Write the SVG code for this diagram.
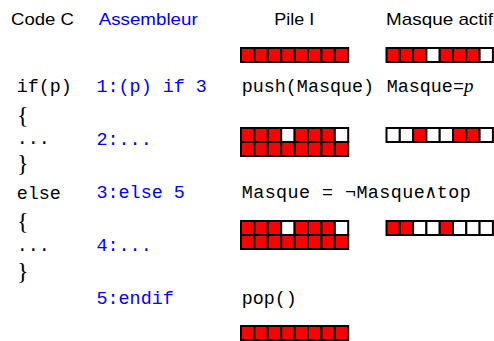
<svg xmlns="http://www.w3.org/2000/svg" width="494" height="341" viewBox="0 0 494 341">
<style>
.h{font-family:"Liberation Sans",Arial,sans-serif;font-size:17px;fill:#000}
.hb{fill:#0000ff}
.m{font-family:"Liberation Mono","DejaVu Sans Mono",monospace;font-size:18.4px;fill:#000}
.b{fill:#0000ff}
.br{font-family:"Liberation Serif","DejaVu Serif",serif;font-size:24px;fill:#000}
.mi{font-family:"Liberation Serif",serif;font-style:italic;font-size:19px}
.r{fill:#ff0000;stroke:#000;stroke-width:2}
.w{fill:#ffffff;stroke:#000;stroke-width:2}
</style>
<g id="headers">
<text class="h" x="11" y="25" textLength="63" lengthAdjust="spacingAndGlyphs">Code C</text>
<text class="h hb" x="98.7" y="25" textLength="99" lengthAdjust="spacingAndGlyphs">Assembleur</text>
<text class="h" x="274.3" y="25" textLength="40" lengthAdjust="spacingAndGlyphs">Pile I</text>
<text class="h" x="386" y="25" textLength="107" lengthAdjust="spacingAndGlyphs">Masque actif</text>
</g>
<g id="code-c">
<text class="m" x="16.7" y="92">if(p)</text>
<text class="br" x="17" y="123">{</text>
<text class="m" x="16.7" y="144">...</text>
<text class="br" x="17" y="171">}</text>
<text class="m" x="16.7" y="199">else</text>
<text class="br" x="17" y="229">{</text>
<text class="m" x="16.7" y="251">...</text>
<text class="br" x="17" y="279">}</text>
</g>
<g id="assembleur">
<text class="m b" x="96.5" y="92">1:(p) if 3</text>
<text class="m b" x="96.5" y="145">2:...</text>
<text class="m b" x="96.5" y="198">3:else 5</text>
<text class="m b" x="96.5" y="251">4:...</text>
<text class="m b" x="96.5" y="304">5:endif</text>
</g>
<g id="operations">
<text class="m" x="241.7" y="92">push(Masque)</text>
<text class="m" x="386.7" y="92">Masque=<tspan class="mi">p</tspan></text>
<text class="m" x="241.7" y="198" textLength="229">Masque = ¬Masque∧top</text>
<text class="m" x="241.7" y="304">pop()</text>
</g>
<g id="pile-1">
<rect class="r" x="241" y="48" width="13.4" height="14"/><rect class="r" x="254.4" y="48" width="13.4" height="14"/><rect class="r" x="267.8" y="48" width="13.4" height="14"/><rect class="r" x="281.2" y="48" width="13.4" height="14"/><rect class="r" x="294.6" y="48" width="13.4" height="14"/><rect class="r" x="308" y="48" width="13.4" height="14"/><rect class="r" x="321.4" y="48" width="13.4" height="14"/><rect class="r" x="334.8" y="48" width="13.4" height="14"/>
</g>
<g id="masque-1">
<rect class="r" x="386.5" y="48" width="13.3" height="14"/><rect class="r" x="399.8" y="48" width="13.3" height="14"/><rect class="r" x="413.1" y="48" width="13.3" height="14"/><rect class="w" x="426.4" y="48" width="13.3" height="14"/><rect class="r" x="439.7" y="48" width="13.3" height="14"/><rect class="r" x="453" y="48" width="13.3" height="14"/><rect class="r" x="466.3" y="48" width="13.3" height="14"/><rect class="w" x="479.6" y="48" width="13.3" height="14"/>
</g>
<g id="pile-2">
<rect class="r" x="241" y="128" width="13.4" height="14"/><rect class="r" x="254.4" y="128" width="13.4" height="14"/><rect class="r" x="267.8" y="128" width="13.4" height="14"/><rect class="w" x="281.2" y="128" width="13.4" height="14"/><rect class="r" x="294.6" y="128" width="13.4" height="14"/><rect class="r" x="308" y="128" width="13.4" height="14"/><rect class="r" x="321.4" y="128" width="13.4" height="14"/><rect class="w" x="334.8" y="128" width="13.4" height="14"/>
<rect class="r" x="241" y="142" width="13.4" height="14"/><rect class="r" x="254.4" y="142" width="13.4" height="14"/><rect class="r" x="267.8" y="142" width="13.4" height="14"/><rect class="r" x="281.2" y="142" width="13.4" height="14"/><rect class="r" x="294.6" y="142" width="13.4" height="14"/><rect class="r" x="308" y="142" width="13.4" height="14"/><rect class="r" x="321.4" y="142" width="13.4" height="14"/><rect class="r" x="334.8" y="142" width="13.4" height="14"/>
</g>
<g id="masque-2">
<rect class="w" x="386.5" y="128" width="13.3" height="14"/><rect class="w" x="399.8" y="128" width="13.3" height="14"/><rect class="r" x="413.1" y="128" width="13.3" height="14"/><rect class="w" x="426.4" y="128" width="13.3" height="14"/><rect class="w" x="439.7" y="128" width="13.3" height="14"/><rect class="r" x="453" y="128" width="13.3" height="14"/><rect class="r" x="466.3" y="128" width="13.3" height="14"/><rect class="w" x="479.6" y="128" width="13.3" height="14"/>
</g>
<g id="pile-3">
<rect class="r" x="241" y="221" width="13.4" height="14"/><rect class="r" x="254.4" y="221" width="13.4" height="14"/><rect class="r" x="267.8" y="221" width="13.4" height="14"/><rect class="w" x="281.2" y="221" width="13.4" height="14"/><rect class="r" x="294.6" y="221" width="13.4" height="14"/><rect class="r" x="308" y="221" width="13.4" height="14"/><rect class="r" x="321.4" y="221" width="13.4" height="14"/><rect class="w" x="334.8" y="221" width="13.4" height="14"/>
<rect class="r" x="241" y="235" width="13.4" height="14"/><rect class="r" x="254.4" y="235" width="13.4" height="14"/><rect class="r" x="267.8" y="235" width="13.4" height="14"/><rect class="r" x="281.2" y="235" width="13.4" height="14"/><rect class="r" x="294.6" y="235" width="13.4" height="14"/><rect class="r" x="308" y="235" width="13.4" height="14"/><rect class="r" x="321.4" y="235" width="13.4" height="14"/><rect class="r" x="334.8" y="235" width="13.4" height="14"/>
</g>
<g id="masque-3">
<rect class="r" x="386.5" y="221" width="13.3" height="14"/><rect class="r" x="399.8" y="221" width="13.3" height="14"/><rect class="w" x="413.1" y="221" width="13.3" height="14"/><rect class="w" x="426.4" y="221" width="13.3" height="14"/><rect class="r" x="439.7" y="221" width="13.3" height="14"/><rect class="w" x="453" y="221" width="13.3" height="14"/><rect class="w" x="466.3" y="221" width="13.3" height="14"/><rect class="w" x="479.6" y="221" width="13.3" height="14"/>
</g>
<g id="pile-4">
<rect class="r" x="241" y="326" width="13.4" height="14"/><rect class="r" x="254.4" y="326" width="13.4" height="14"/><rect class="r" x="267.8" y="326" width="13.4" height="14"/><rect class="r" x="281.2" y="326" width="13.4" height="14"/><rect class="r" x="294.6" y="326" width="13.4" height="14"/><rect class="r" x="308" y="326" width="13.4" height="14"/><rect class="r" x="321.4" y="326" width="13.4" height="14"/><rect class="r" x="334.8" y="326" width="13.4" height="14"/>
</g>
</svg>
